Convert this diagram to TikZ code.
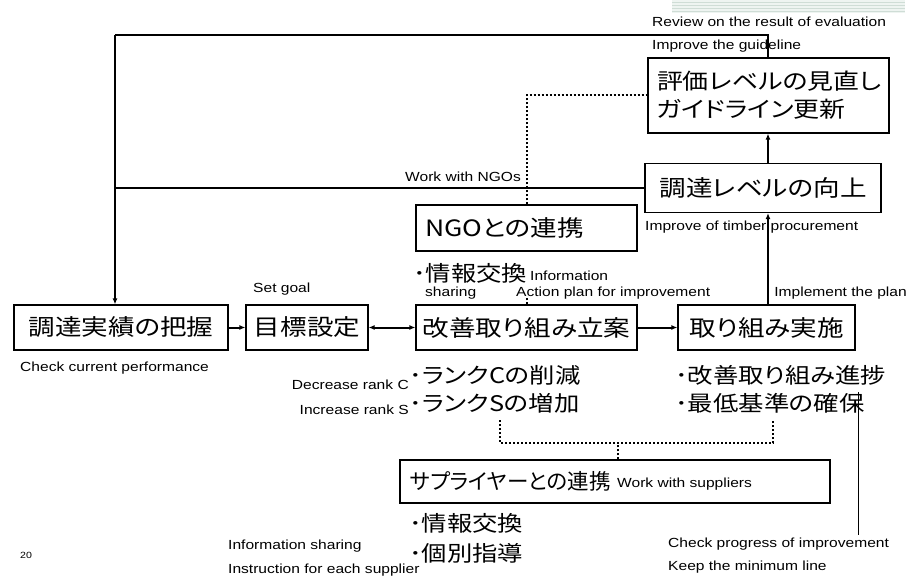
\documentclass[tikz,border=0pt]{standalone}
\usepackage{fontspec}
\setmainfont{Liberation Sans}[FakeStretch=1.18]
\newfontfamily\jpfam{Noto Sans CJK JP}[FakeStretch=1.18,RawFeature=+palt]
\newfontfamily\jpnarrow{Noto Sans CJK JP}[RawFeature=+palt]
\usetikzlibrary{arrows.meta}
\newcommand\enlab{\fontsize{13.2}{16}\selectfont}
\newcommand\jpbig{\jpfam\fontsize{22.5}{28}\selectfont}
\newcommand\jpmid{\jpfam\fontsize{21.5}{28}\selectfont}
\definecolor{barfill}{HTML}{EEF4F1}
\definecolor{barline}{HTML}{CFDDD6}
\begin{document}
\begin{tikzpicture}[x=1pt,y=-1pt,
  box/.style={draw, line width=1.2pt, inner sep=0pt, font=\jpbig},
  lab/.style={anchor=west, inner sep=0pt, font=\enlab},
  rlab/.style={anchor=east, inner sep=0pt, font=\enlab},
  jlab/.style={anchor=west, inner sep=0pt, font=\jpmid},
  thickln/.style={line width=2.4pt},
  medln/.style={line width=2pt},
  arr/.style={line width=2pt, -{Latex[length=6pt,width=5pt]}},
  darr/.style={line width=2pt, {Latex[length=6pt,width=5pt]}-{Latex[length=6pt,width=5pt]}},
  dots/.style={line width=2pt, dash pattern=on 2pt off 2pt},
  thinln/.style={line width=0.9pt}]
\useasboundingbox (0,0) rectangle (908,578);

% decorative bar top right
\fill[barfill] (672,0) rectangle (905,13);
\foreach \yy in {2,5,8,11} \draw[barline, line width=0.8pt] (672,\yy) -- (905,\yy);

% boxes
\node[box, minimum width=241pt, minimum height=75pt, text width=223pt, align=left, font=\jpfam\fontsize{22}{28}\selectfont] (eval) at (768.5,95.5) {評価レベルの見直し\\ガイドライン更新};
\node[box, minimum width=236pt, minimum height=49pt] (proc) at (763,188) {調達レベルの向上};
\node[box, minimum width=221pt, minimum height=46pt, text width=203pt, align=left] (ngo) at (526.5,228) {NGOとの連携};
\node[box, minimum width=214pt, minimum height=45pt] (check) at (121,327.5) {調達実績の把握};
\node[box, minimum width=122pt, minimum height=45pt] (goal) at (307,327.5) {目標設定};
\node[box, minimum width=221pt, minimum height=45pt] (plan) at (526.5,327.5) {改善取り組み立案};
\node[box, minimum width=177pt, minimum height=45pt] (impl) at (766.5,327.5) {取り組み実施};
\node[box, minimum width=430pt, minimum height=43pt, text width=410pt, align=left, font=\jpnarrow\fontsize{21.5}{28}\selectfont] (supp) at (615,481.5) {サプライヤーとの連携};
\node[lab] (sw) at (617,484) {Work with suppliers};

% helper coordinates
\coordinate (tl) at (115,35);
\coordinate (vx) at (768,0);
\coordinate (bl) at (500,420);
\coordinate (br) at (773,420);
\coordinate (bm) at (618,443);
\coordinate (tv1) at (858,392);
\coordinate (tv2) at (858,535);

% connectors
\draw[thickln] (eval.north -| vx) -- (vx |- tl) -- (tl);
\draw[line width=2.4pt, -{Latex[length=6pt,width=5pt]}] (tl) -- (tl |- check.north);
\draw[medln] (proc.west) -- (proc.west -| tl);
\draw[arr] (impl.north -| vx) -- (proc.south -| vx);
\draw[arr] (proc.north -| vx) -- (eval.south -| vx);
\draw[arr] (check.east) -- (goal.west);
\draw[darr] (goal.east) -- (plan.west);
\draw[arr] (plan.east) -- (impl.west);
\draw[dots] (ngo.north) |- (eval.west);
\draw[dots] (plan.north) -- ++(0,-6);
\draw[dots] (bl) -- (bl |- bm) -- (br |- bm) -- (br);
\draw[dots] (supp.north -| bm) -- (bm);
\draw[thinln] (tv1) -- (tv2);

% labels
\node[lab] (l1) at (652,22) {Review on the result of evaluation};
\node[lab] (l2) at (652,46) {Improve the guideline};
\node[lab] (l3) at (405,177) {Work with NGOs};
\node[lab] (l4) at (645,227) {Improve of timber procurement};
\node[jlab] (j1) at (413,273) {･情報交換};
\node[lab] (l5) at (530,276) {Information};
\node[lab] (l6) at (425,293) {sharing};
\node[lab] (l7) at (516,293) {Action plan for improvement};
\node[lab] (l8) at (253,289) {Set goal};
\node[rlab] (l9) at (907,293) {Implement the plan};
\node[lab] (l10) at (20,368) {Check current performance};
\node[rlab] (l11) at (409,385) {Decrease rank C};
\node[rlab] (l12) at (409,410) {Increase rank S};
\node[jlab] (j2) at (409,375) {･ランクCの削減};
\node[jlab] (j3) at (409,403) {･ランクSの増加};
\node[jlab] (j4) at (675,375) {･改善取り組み進捗};
\node[jlab] (j5) at (675,403) {･最低基準の確保};
\node[jlab] (j6) at (409,523) {･情報交換};
\node[jlab] (j7) at (409,553) {･個別指導};
\node[lab] (l13) at (228,546) {Information sharing};
\node[lab] (l14) at (228,570) {Instruction for each supplier};
\node[lab] (l15) at (668,544) {Check progress of improvement};
\node[lab] (l16) at (668,567) {Keep the minimum line};
\node[lab, font=\fontsize{9}{11}\selectfont] (pg) at (20,555) {20};
\end{tikzpicture}
\end{document}
